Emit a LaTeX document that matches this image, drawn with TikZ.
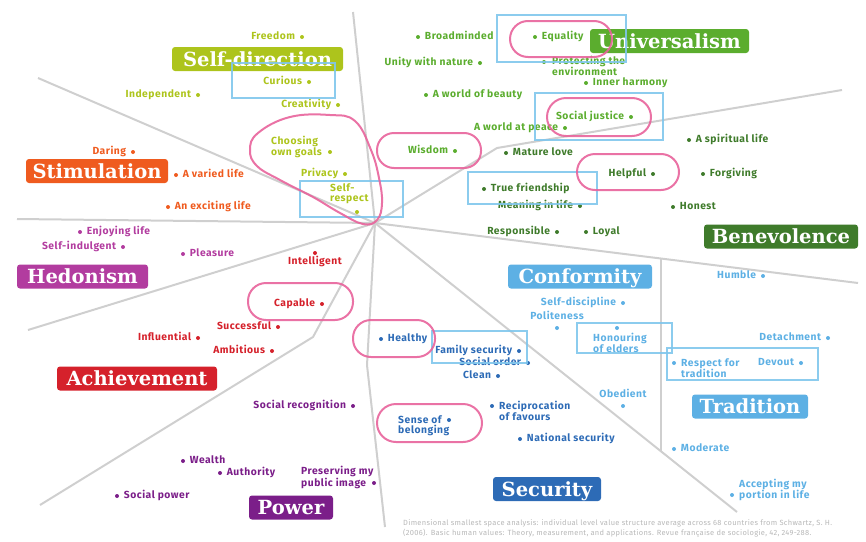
\documentclass[tikz,border=0pt]{standalone}
\usepackage{fontspec}
\newfontfamily\catfont{DejaVu Serif}
\newfontfamily\valfont[LetterSpace=5]{Fira Sans}
\newfontfamily\notefont[LetterSpace=4]{Fira Sans}
\usetikzlibrary{positioning}

\definecolor{sdir}{HTML}{ADC41C}
\definecolor{univ}{HTML}{5BAD2E}
\definecolor{bene}{HTML}{3F7B2B}
\definecolor{conf}{HTML}{5DB0E4}
\definecolor{secu}{HTML}{2D6BB6}
\definecolor{powr}{HTML}{7B1E89}
\definecolor{achv}{HTML}{D5212B}
\definecolor{hedo}{HTML}{B23C9F}
\definecolor{stim}{HTML}{EF5B1F}
\definecolor{axisgray}{HTML}{CFCFCF}
\definecolor{pinkline}{HTML}{E8639B}
\definecolor{boxline}{HTML}{80C6EC}
\definecolor{notegray}{HTML}{B8B8B8}

\tikzset{
  axis/.style={draw=axisgray, line width=2pt},
  category/.style 2 args={fill=#1, text=white, rounded corners=3pt,
    font=\catfont\bfseries\fontsize{19.5}{19.5}\selectfont,
    minimum width=#2, minimum height=24pt, inner sep=0pt,
    text height=14.2pt, text depth=0pt},
  vdot/.style={circle, fill=#1, inner sep=0pt, minimum size=4pt},
  vtext/.style={text=#1, font=\valfont\bfseries\fontsize{10.3}{10.5}\selectfont,
    inner sep=0pt, text height=7.5pt, text depth=2.2pt},
  vtexttwo/.style={text=#1, font=\valfont\bfseries\fontsize{10.3}{10.3}\selectfont,
    inner sep=0pt, align=left},
  highlight/.style={draw=pinkline, line width=2pt, opacity=0.9},
  picked/.style={draw=boxline, line width=2pt, opacity=0.9}
}

\begin{document}
\begin{tikzpicture}[x=1pt, y=-1pt]
\useasboundingbox (0,0) rectangle (866,541);

% Dividing lines, all meeting in the hub
\coordinate (hub) at (375,223);
\coordinate (l1) at (38,78);
\coordinate (l2) at (353,12);
\coordinate (l3a) at (497,148);
\coordinate (l3) at (842,90);
\coordinate (l4) at (858,283);
\coordinate (l5a) at (661,259);
\coordinate (l5) at (661,451);
\coordinate (l6) at (737,512);
\coordinate (l7a) at (367,365);
\coordinate (l7) at (385,527);
\coordinate (l8a) at (313,337);
\coordinate (l8) at (40,505);
\coordinate (l9) at (28,330);
\coordinate (l10) at (17,219);

\draw[axis] (l1) -- (hub);
\draw[axis] (l2) -- (hub);
\draw[axis] (hub) -- (l3a) -- (l3);
\draw[axis] (hub) -- (l4);
\draw[axis] (l5a) -- (l5);
\draw[axis] (hub) -- (l6);
\draw[axis] (hub) -- (l7a) -- (l7);
\draw[axis] (hub) -- (l8a) -- (l8);
\draw[axis] (hub) -- (l9);
\draw[axis] (l10) -- (hub);

% The ten value types
\node[category={sdir}{171pt}] at (257.5,59) (selfdirection) {Self-direction};
\node[category={univ}{159pt}] at (669.5,41) (universalism) {Universalism};
\node[category={stim}{142pt}] at (97,171) (stimulation) {Stimulation};
\node[category={bene}{154pt}] at (781,236.5) (benevolence) {Benevolence};
\node[category={hedo}{131pt}] at (82.5,276.5) (hedonism) {Hedonism};
\node[category={conf}{144pt}] at (580,276.5) (conformity) {Conformity};
\node[category={achv}{160pt}] at (137,378.5) (achievement) {Achievement};
\node[category={conf}{116pt}] at (750,406.5) (tradition) {Tradition};
\node[category={secu}{108pt}] at (547,489) (security) {Security};
\node[category={powr}{84pt}] at (291,507.5) (power) {Power};

% Self-direction values
\node[vdot=sdir] at (302,37) (freedom) {};
\node[vtext=sdir, left=4.5pt of freedom] (freedomT) {Freedom};
\node[vdot=sdir] at (309,82) (curious) {};
\node[vtext=sdir, left=4.5pt of curious] (curiousT) {Curious};
\node[vdot=sdir] at (198,95) (indep) {};
\node[vtext=sdir, left=4.5pt of indep] (indepT) {Independent};
\node[vdot=sdir] at (338,105) (creat) {};
\node[vtext=sdir, left=4.5pt of creat] (creatT) {Creativity};
\node[vdot=sdir] at (330,152) (goals) {};
\node[vtexttwo=sdir, anchor=west] at (271,147) (goalsT) {Choosing\\own goals};
\node[vdot=sdir] at (345,174) (privacy) {};
\node[vtext=sdir, left=4.5pt of privacy] (privacyT) {Privacy};
\node[vdot=sdir] at (357,212) (respect) {};
\node[vtexttwo=sdir, anchor=west] at (330,194) (respectT) {Self-\\respect};

% Universalism values
\node[vdot=univ] at (418,37) (broad) {};
\node[vtext=univ, right=4.5pt of broad] (broadT) {Broadminded};
\node[vdot=univ] at (535,37) (equal) {};
\node[vtext=univ, right=4.5pt of equal] (equalT) {Equality};
\node[vdot=univ] at (480,63) (unity) {};
\node[vtext=univ, left=4.5pt of unity] (unityT) {Unity with nature};
\node[vdot=univ] at (544,62) (envir) {};
\node[vtexttwo=univ, anchor=west, font=\valfont\bfseries\fontsize{10.3}{9.5}\selectfont] at (552,66) (envirT) {Protecting the\\environment};
\node[vdot=univ] at (586,83) (inner) {};
\node[vtext=univ, right=4.5pt of inner] (innerT) {Inner harmony};
\node[vdot=univ] at (426,95) (beauty) {};
\node[vtext=univ, right=4.5pt of beauty] (beautyT) {A world of beauty};
\node[vdot=univ] at (631,117) (justice) {};
\node[vtext=univ, left=4.5pt of justice] (justiceT) {Social justice};
\node[vdot=univ] at (565,128) (peace) {};
\node[vtext=univ, left=4.5pt of peace] (peaceT) {A world at peace};
\node[vdot=univ] at (455,151) (wisdom) {};
\node[vtext=univ, left=4.5pt of wisdom] (wisdomT) {Wisdom};

% Benevolence values
\node[vdot=bene] at (506,153) (mature) {};
\node[vtext=bene, right=4.5pt of mature] (matureT) {Mature love};
\node[vdot=bene] at (689,140) (spirit) {};
\node[vtext=bene, right=4.5pt of spirit] (spiritT) {A spiritual life};
\node[vdot=bene] at (653,174) (helpful) {};
\node[vtext=bene, left=4.5pt of helpful] (helpfulT) {Helpful};
\node[vdot=bene] at (703,174) (forgive) {};
\node[vtext=bene, right=4.5pt of forgive] (forgiveT) {Forgiving};
\node[vdot=bene] at (484,189) (friend) {};
\node[vtext=bene, right=4.5pt of friend] (friendT) {True friendship};
\node[vdot=bene] at (580,206) (meaning) {};
\node[vtext=bene, left=4.5pt of meaning] (meaningT) {Meaning in life};
\node[vdot=bene] at (673,207) (honest) {};
\node[vtext=bene, right=4.5pt of honest] (honestT) {Honest};
\node[vdot=bene] at (557,232) (respons) {};
\node[vtext=bene, left=4.5pt of respons] (responsT) {Responsible};
\node[vdot=bene] at (586,232) (loyal) {};
\node[vtext=bene, right=4.5pt of loyal] (loyalT) {Loyal};

% Conformity values
\node[vdot=conf] at (763,276) (humble) {};
\node[vtext=conf, left=4.5pt of humble] (humbleT) {Humble};
\node[vdot=conf] at (623,303) (discip) {};
\node[vtext=conf, left=4.5pt of discip] (discipT) {Self-discipline};
\node[vdot=conf] at (557,328) (polite) {};
\node[vtext=conf, above=3.5pt of polite] (politeT) {Politeness};
\node[vdot=conf] at (617,328) (elders) {};
\node[vtexttwo=conf, anchor=west] at (593,343) (eldersT) {Honouring\\of elders};
\node[vdot=conf] at (623,406) (obed) {};
\node[vtext=conf, above=3.5pt of obed] (obedT) {Obedient};

% Tradition values
\node[vdot=conf] at (828,338) (detach) {};
\node[vtext=conf, left=4.5pt of detach] (detachT) {Detachment};
\node[vdot=conf] at (674,363) (tradit) {};
\node[vtexttwo=conf, anchor=west] at (681,368) (traditT) {Respect for\\tradition};
\node[vdot=conf] at (801,363) (devout) {};
\node[vtext=conf, left=4.5pt of devout] (devoutT) {Devout};
\node[vdot=conf] at (674,449) (moder) {};
\node[vtext=conf, right=4.5pt of moder] (moderT) {Moderate};
\node[vdot=conf] at (732,495) (portion) {};
\node[vtexttwo=conf, anchor=west] at (739,490) (portionT) {Accepting my\\portion in life};

% Security values
\node[vdot=secu] at (381,339) (healthy) {};
\node[vtext=secu, right=4.5pt of healthy] (healthyT) {Healthy};
\node[vdot=secu] at (519,351) (family) {};
\node[vtext=secu, left=4.5pt of family] (familyT) {Family security};
\node[vdot=secu] at (528,363) (order) {};
\node[vtext=secu, left=4.5pt of order] (orderT) {Social order};
\node[vdot=secu] at (498,376) (clean) {};
\node[vtext=secu, left=4.5pt of clean] (cleanT) {Clean};
\node[vdot=secu] at (492,406) (recip) {};
\node[vtexttwo=secu, anchor=west] at (499,411) (recipT) {Reciprocation\\of favours};
\node[vdot=secu] at (449,420) (belong) {};
\node[vtexttwo=secu, anchor=west] at (398,426) (belongT) {Sense of\\belonging};
\node[vdot=secu] at (520,439) (nation) {};
\node[vtext=secu, right=4.5pt of nation] (nationT) {National security};

% Power values
\node[vdot=powr] at (353,406) (recog) {};
\node[vtext=powr, left=4.5pt of recog] (recogT) {Social recognition};
\node[vdot=powr] at (183,461) (wealth) {};
\node[vtext=powr, right=4.5pt of wealth] (wealthT) {Wealth};
\node[vdot=powr] at (220,473) (author) {};
\node[vtext=powr, right=4.5pt of author] (authorT) {Authority};
\node[vdot=powr] at (117,496) (socpow) {};
\node[vtext=powr, right=4.5pt of socpow] (socpowT) {Social power};
\node[vdot=powr] at (374,483) (image) {};
\node[vtexttwo=powr, anchor=west] at (301,477.5) (imageT) {Preserving my\\public image};

% Achievement values
\node[vdot=achv] at (315,253) (intell) {};
\node[vtext=achv, below=2pt of intell] (intellT) {Intelligent};
\node[vdot=achv] at (322,304) (capable) {};
\node[vtext=achv, left=4.5pt of capable] (capableT) {Capable};
\node[vdot=achv] at (278,327) (success) {};
\node[vtext=achv, left=4.5pt of success] (successT) {Successful};
\node[vdot=achv] at (198,338) (influ) {};
\node[vtext=achv, left=4.5pt of influ] (influT) {Influential};
\node[vdot=achv] at (272,351) (ambit) {};
\node[vtext=achv, left=4.5pt of ambit] (ambitT) {Ambitious};

% Hedonism values
\node[vdot=hedo] at (80,232) (enjoy) {};
\node[vtext=hedo, right=4.5pt of enjoy] (enjoyT) {Enjoying life};
\node[vdot=hedo] at (123,247) (indulg) {};
\node[vtext=hedo, left=4.5pt of indulg] (indulgT) {Self-indulgent};
\node[vdot=hedo] at (183,254) (pleas) {};
\node[vtext=hedo, right=4.5pt of pleas] (pleasT) {Pleasure};

% Stimulation values
\node[vdot=stim] at (133,152) (daring) {};
\node[vtext=stim, left=4.5pt of daring] (daringT) {Daring};
\node[vdot=stim] at (176,175) (varied) {};
\node[vtext=stim, right=4.5pt of varied] (variedT) {A varied life};
\node[vdot=stim] at (168,207) (excit) {};
\node[vtext=stim, right=4.5pt of excit] (excitT) {An exciting life};

% Source note
\node[anchor=west, align=left, inner sep=0pt, text=notegray,
      font=\notefont\fontsize{7.5}{10}\selectfont] at (403,528) (source)
  {Dimensional smallest space analysis: individual level value structure average across 68 countries from Schwartz, S. H.\\
   (2006). Basic human values: Theory, measurement, and applications. Revue française de sociologie, 42, 249-288.};

% Blue boxes round picked values
\draw[picked] (232,63) rectangle (335,98);
\draw[picked] (497,15) rectangle (626,62);
\draw[picked] (535,93) rectangle (663,140);
\draw[picked] (300,181) rectangle (403,217);
\draw[picked] (468,172) rectangle (597,204);
\draw[picked] (432,331) rectangle (527,363);
\draw[picked] (577,323) rectangle (672,353);
\draw[picked] (667,348) rectangle (818,380);

% Pink rings round picked values
\draw[highlight, rounded corners=18pt] (510,21) rectangle (612,57);
\draw[highlight, rounded corners=19pt] (547,98) rectangle (651,136);
\draw[highlight, rounded corners=17pt] (377,133) rectangle (481,168);
\draw[highlight, rounded corners=18pt] (577,154) rectangle (679,190);
\draw[highlight, rounded corners=18pt] (248,283) rectangle (353,320);
\draw[highlight, rounded corners=18pt] (353,320) rectangle (435,357);
\draw[highlight, rounded corners=19pt] (377,404) rectangle (482,442);
\draw[highlight] plot[smooth cycle, tension=0.7] coordinates
  {(330,115) (355,121) (371,150) (379,178) (382,203) (377,220) (363,224)
   (340,213) (313,197) (280,180) (257,166) (250,150) (258,133) (290,117)};

\end{tikzpicture}
\end{document}
